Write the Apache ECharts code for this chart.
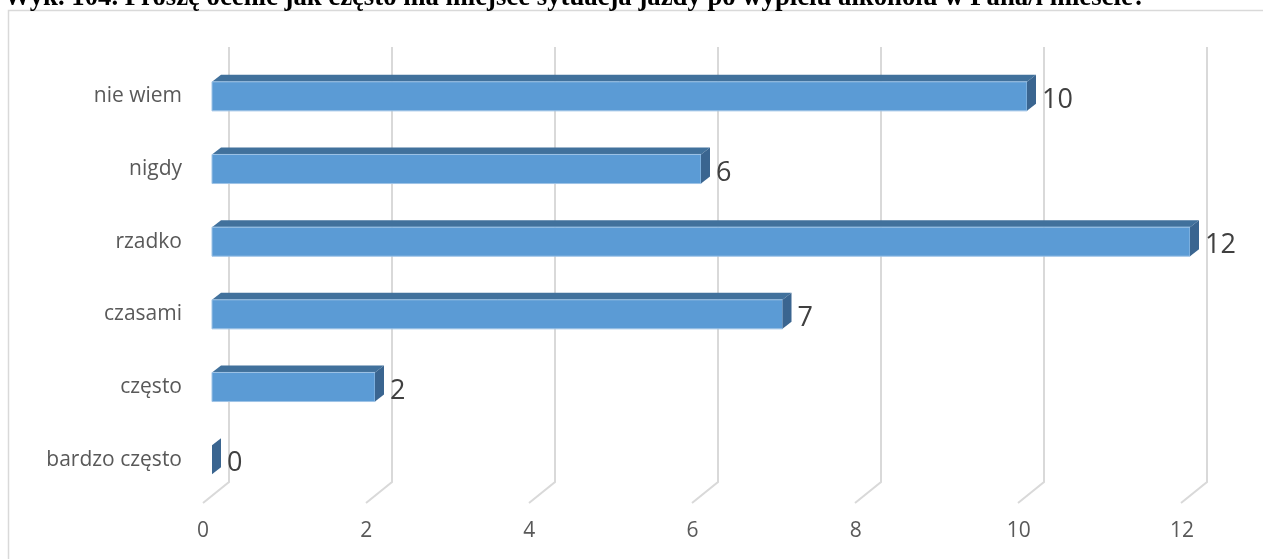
<!DOCTYPE html>
<html>
<head>
<meta charset="utf-8">
<script src="https://cdn.jsdelivr.net/npm/echarts@6/dist/echarts.min.js"></script>
<style>
html,body{margin:0;padding:0;background:#fff;}
#chart{width:1263px;height:559px;}
</style>
</head>
<body>
<div id="chart"></div>
<script>
const titleText = 'Wyk. 104. Proszę ocenić jak często ma miejsce sytuacja jazdy po wypiciu alkoholu w Pana/i mieście?';
const categories = ['bardzo często', 'często', 'czasami', 'rzadko', 'nigdy', 'nie wiem'];
const values = [0, 2, 7, 12, 6, 10];
const tickValues = [0, 2, 4, 6, 8, 10, 12];

// fit title font to observed width
const cv = document.createElement('canvas').getContext('2d');
cv.font = 'bold 20px "Liberation Serif"';
const titleSize = 20 * 1142 / cv.measureText(titleText).width;

const DX = 9, DY = 7;      // bar depth offset
const FX = 26, FY = 21;    // floor depth offset

const chart = echarts.init(document.getElementById('chart'), null, {renderer: 'canvas'});

const axisBase = {min: 0, max: 12, interval: 2, axisLine: {show: false}, axisTick: {show: false}, splitLine: {show: false}, axisLabel: {show: false}};
const catBase = {type: 'category', data: categories, axisLine: {show: false}, axisTick: {show: false}, axisLabel: {show: false}, splitLine: {show: false}};

chart.setOption({
  animation: false,
  backgroundColor: '#ffffff',
  graphic: [
    {type: 'rect', shape: {x: 8.5, y: 10.5, width: 1300, height: 600}, style: {fill: 'none', stroke: '#d9d9d9', lineWidth: 1.5}, z: 0},
    {type: 'text', left: 4, top: -15, style: {text: titleText, font: 'bold ' + titleSize.toFixed(2) + 'px "Liberation Serif"', fill: '#000'}, z: 10}
  ],
  grid: [
    {left: 229, width: 978, top: 47, height: 435},
    {left: 212, width: 978, top: 60, height: 436},
    {left: 203, width: 979, top: 67, height: 436}
  ],
  xAxis: [
    Object.assign({type: 'value', gridIndex: 0}, axisBase),
    Object.assign({type: 'value', gridIndex: 1}, axisBase),
    Object.assign({type: 'value', gridIndex: 2}, axisBase, {axisLabel: {show: true, margin: 18, fontSize: 21, color: '#595959', fontFamily: 'Open Sans'}})
  ],
  yAxis: [
    Object.assign({gridIndex: 0}, catBase),
    Object.assign({gridIndex: 1}, catBase, {axisLabel: {show: true, margin: 30, fontSize: 21, color: '#595959', fontFamily: 'Open Sans'}}),
    Object.assign({gridIndex: 2}, catBase)
  ],
  series: [
    {
      type: 'custom', xAxisIndex: 0, yAxisIndex: 0, silent: true, z: 1,
      data: tickValues.map(v => [v, 0]),
      renderItem: function (params, api) {
        const x = api.coord([api.value(0), 0])[0];
        const cs = params.coordSys;
        const yb = cs.y + cs.height;
        return {
          type: 'polyline',
          shape: {points: [[x, cs.y], [x, yb], [x - FX, yb + FY]]},
          style: {stroke: '#d9d9d9', lineWidth: 2, fill: null}
        };
      }
    },
    {
      type: 'custom', xAxisIndex: 1, yAxisIndex: 1, silent: true, z: 5,
      data: values.map((v, i) => [v, i]),
      encode: {x: 0, y: 1},
      renderItem: function (params, api) {
        const v = api.value(0), c = api.value(1);
        const p0 = api.coord([0, c]);
        const p1 = api.coord([v, c]);
        const band = api.size([0, 1])[1];
        const h = band * 0.4;
        const yt = p0[1] - h / 2, yb = p0[1] + h / 2;
        const x0 = p0[0], x1 = p1[0];
        const children = [];
        if (x1 - x0 > 0.5) {
          children.push({type: 'polygon', shape: {points: [[x0, yt], [x0 + DX, yt - DY], [x1 + DX, yt - DY], [x1, yt]]}, style: {fill: '#41719c'}});
          children.push({type: 'rect', shape: {x: x0, y: yt, width: x1 - x0, height: h}, style: {fill: '#5b9bd5', stroke: '#9dc3e6', lineWidth: 1}});
        }
        children.push({type: 'polygon', shape: {points: [[x1, yt], [x1 + DX, yt - DY], [x1 + DX, yb - DY], [x1, yb]]}, style: {fill: '#3a6590'}});
        children.push({type: 'text', style: {text: String(v), x: x1 + 15, y: p0[1] + 4, verticalAlign: 'middle', align: 'left', font: '27px "Open Sans"', fill: '#404040'}});
        return {type: 'group', children: children};
      }
    }
  ]
});
</script>
</body>
</html>
